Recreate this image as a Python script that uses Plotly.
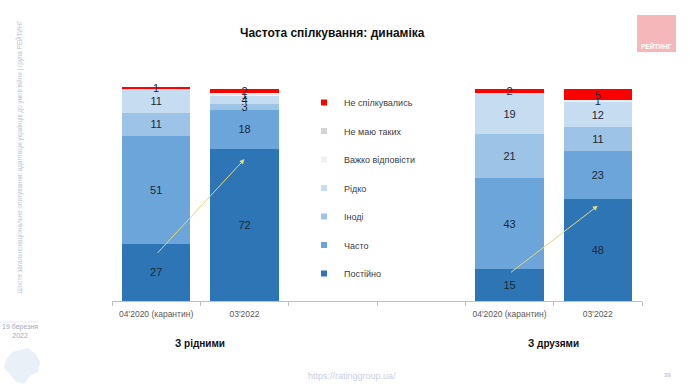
import plotly.graph_objects as go

# ---- data ----
x_pos = [0, 1, 4, 5]
period_labels = ["04'2020 (карантин)", "03'2022", "04'2020 (карантин)", "03'2022"]
group_labels = ["З рідними", "З друзями"]

series_names = ["Постійно", "Часто", "Іноді", "Рідко", "Важко відповісти", "Не маю таких", "Не спілкувались"]
postiyno = [27, 72, 15, 48]
chasto = [51, 18, 43, 23]
inodi = [11, 3, 21, 11]
ridko = [11, 4, 19, 12]
vazhko = [0, 1, 0, 1]
ne_mayu = [0, 0, 0, 0]
ne_spilk = [1, 2, 2, 5]
series_values = [postiyno, chasto, inodi, ridko, vazhko, ne_mayu, ne_spilk]
colors = ["#2E75B6", "#6BA5D9", "#9DC3E6", "#C6DCF0", "#F0F0F0", "#D3D3D3", "#FF0000"]

# ---- geometry helpers (layout only) ----
W, H = 690, 388
L, R, T, B = 112, 48, 85, 87
PW, PH = W - L - R, H - T - B


def px(xp):
    return (xp - L) / PW


def py(yp):
    return (H - B - yp) / PH


FONT = "Arial, Liberation Sans, sans-serif"

fig = go.Figure()
for name, vals, col in zip(series_names, series_values, colors):
    fig.add_trace(go.Bar(
        x=x_pos, y=vals, name=name, marker=dict(color=col, line=dict(width=0)),
        width=0.77, text=[str(v) if v else "" for v in vals],
        textposition="inside", insidetextanchor="middle", constraintext="none",
        textangle=0,
        textfont=dict(family=FONT, size=11, color="#1B2838"),
        showlegend=False, hoverinfo="skip", cliponaxis=False,
    ))

# legend entries, top to bottom as in the reference
for name, col in reversed(list(zip(series_names, colors))):
    fig.add_trace(go.Scatter(
        x=[None], y=[None], mode="markers", name=name, legendgroup=name,
        marker=dict(symbol="square", size=6, color=col),
    ))

# trend arrows
arrows = [(0.0, 22, 1.0, 67), (4.0, 13, 5.0, 45)]
for x0, y0, x1, y1 in arrows:
    fig.add_annotation(x=x1, y=y1, ax=x0, ay=y0, xref="x", yref="y", axref="x", ayref="y",
                       showarrow=True, arrowhead=2, arrowsize=1, arrowwidth=1,
                       arrowcolor="#E6D77A", text="")


def label(xv, yv, text, size, color, xref="paper", bold=False, angle=0):
    fig.add_annotation(x=xv, y=yv, xref=xref, yref="paper", xanchor="center", yanchor="middle",
                       text=("<b>%s</b>" % text) if bold else text, showarrow=False,
                       textangle=angle, font=dict(family=FONT, size=size, color=color))


# group labels
for gx, gl in zip([0.5, 4.5], group_labels):
    label(gx, py(343), gl, 10, "#111111", xref="x", bold=True)

# title
label(px(332), py(33), "Частота спілкування: динаміка", 12, "#111111", bold=True)

# sidebar
label(px(19), py(157), "Шосте загальнонаціональне опитування: адаптація українців до умов війни | група РЕЙТИНГ",
      6.3, "#B9C3D3", angle=-90)
label(px(20), py(331), "19 березня<br>2022", 7, "#9DAAC2")
fig.add_shape(type="line", xref="paper", yref="paper", x0=px(0), x1=px(38), y0=py(322), y1=py(322),
              line=dict(color="#E3E8F0", width=1))
# faint map silhouette
map_pts = [(6, 360), (12, 352), (20, 350), (28, 348), (36, 354), (40, 362), (38, 372),
           (30, 376), (24, 384), (16, 382), (10, 374), (4, 368)]
path = "M " + " L ".join("%.4f,%.4f" % (px(a), py(b)) for a, b in map_pts) + " Z"
fig.add_shape(type="path", xref="paper", yref="paper", path=path,
              fillcolor="#EAF0F8", line=dict(width=0), layer="below")

# footer
label(px(352), py(376), "https://ratinggroup.ua/", 9, "#C9CFE3")
label(px(667), py(375), "39", 6, "#A9B1C3")

# logo
fig.add_shape(type="rect", xref="paper", yref="paper", x0=px(637), x1=px(676), y0=py(15), y1=py(52),
              fillcolor="#F5B7BA", line=dict(width=0), layer="below")
label(px(656.5), py(46), "РЕЙТИНГ", 6.5, "#FFFFFF", bold=True)

fig.update_layout(
    width=W, height=H, margin=dict(l=L, r=R, t=T, b=B),
    barmode="stack", bargap=0.23,
    paper_bgcolor="#FFFFFF", plot_bgcolor="#FFFFFF",
    font=dict(family=FONT, size=9, color="#404040"),
    legend=dict(x=px(304), y=py(88), xanchor="left", yanchor="top",
                traceorder="grouped", tracegroupgap=9.5, maxheight=400,
                font=dict(family=FONT, size=9, color="#404040"),
                bgcolor="rgba(0,0,0,0)", itemclick=False),
    showlegend=True,
    xaxis=dict(range=[-0.5, 5.5], tickmode="array", tickvals=x_pos, ticktext=period_labels,
               ticks="", showline=True, linecolor="#BFBFBF", linewidth=1, showgrid=False,
               zeroline=False, ticklabelstandoff=5,
               tickfont=dict(family=FONT, size=8.5, color="#595959"),
               minor=dict(tickmode="array", tickvals=[-0.5, 0.5, 1.5, 2.5, 3.5, 4.5, 5.5],
                          ticks="outside", ticklen=4, tickcolor="#BFBFBF", showgrid=False)),
    yaxis=dict(range=[0, 102], visible=False, showgrid=False, zeroline=False),
)

fig.write_html("out.html", config={"displayModeBar": False},
               post_script="document.body.style.margin='0';")
